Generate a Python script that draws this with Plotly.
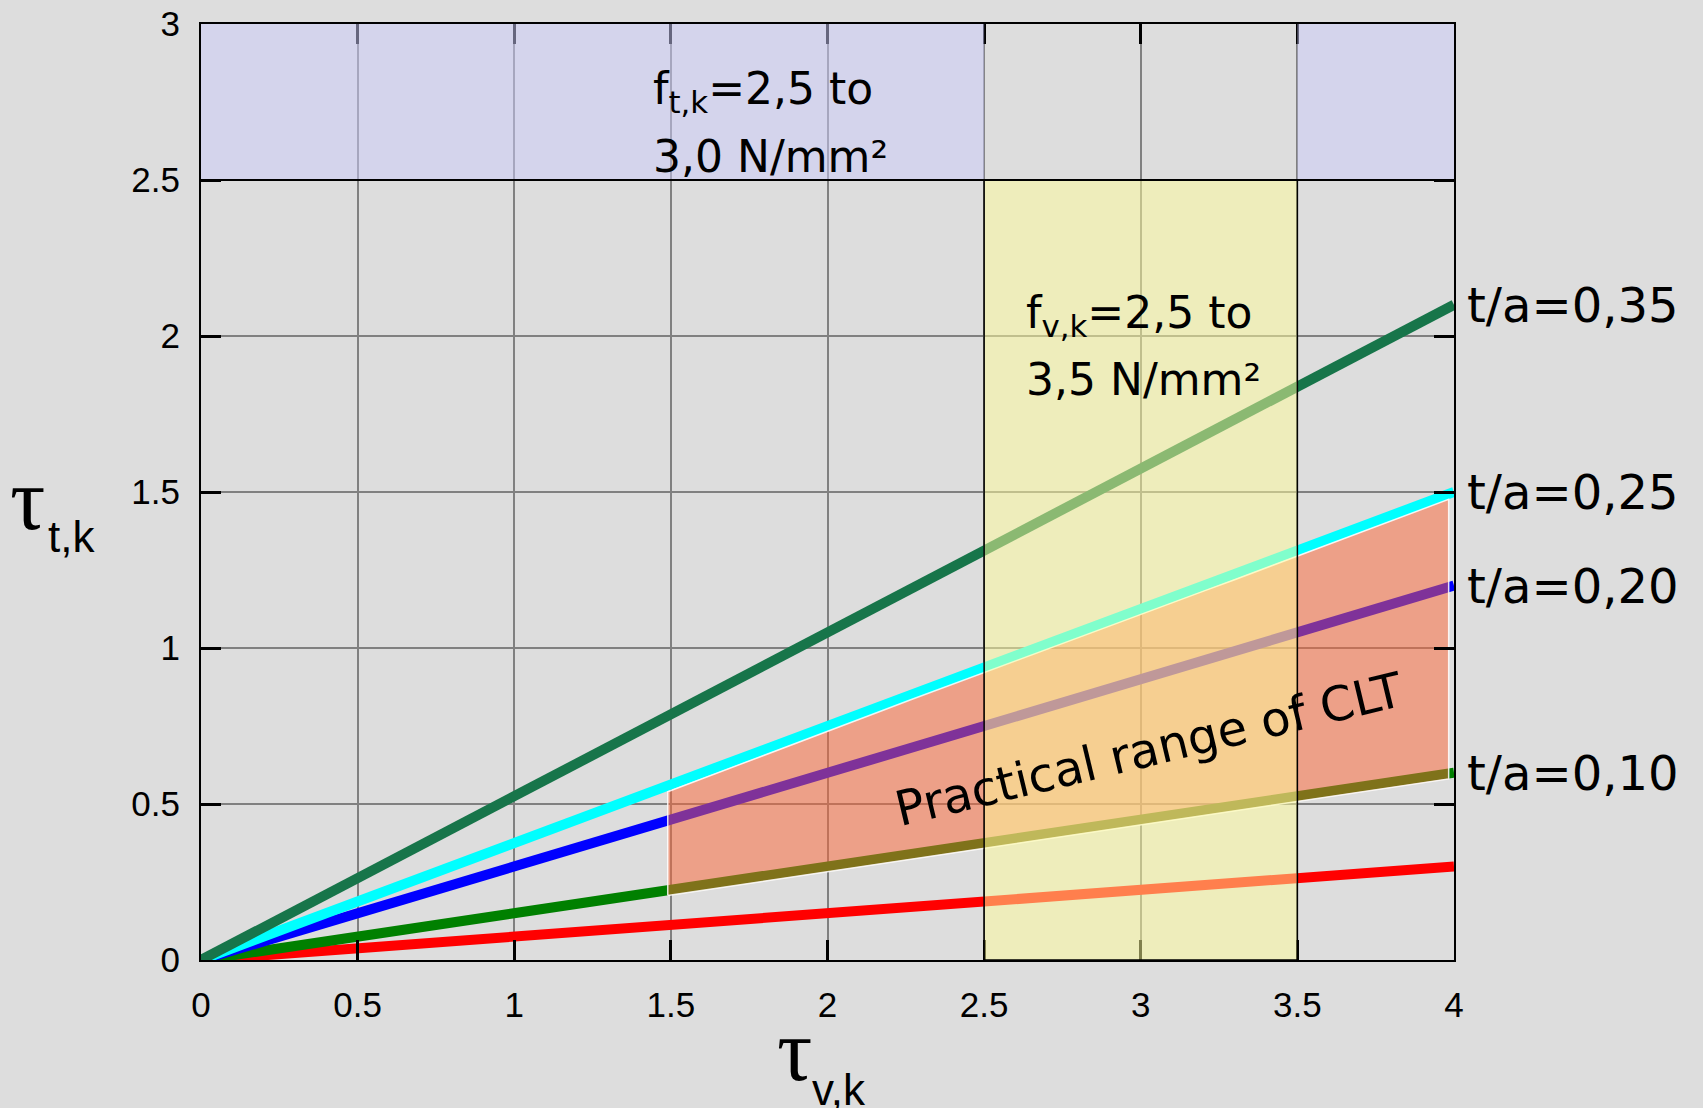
import numpy as np
import plotly.graph_objects as go

# ---------------- data ----------------
x_pts = [0, 1.5, 2.5, 3.5, 4.0]
ta_035 = [0, 0.79, 1.31, 1.84, 2.10]
ta_025 = [0, 0.56, 0.94, 1.31, 1.50]
ta_020 = [0, 0.45, 0.75, 1.05, 1.20]
ta_010 = [0, 0.225, 0.375, 0.525, 0.60]
ta_005 = [0, 0.11, 0.185, 0.26, 0.30]

series_labels = ["t/a=0,35", "t/a=0,25", "t/a=0,20", "t/a=0,10"]
x_ticks = [0, 0.5, 1, 1.5, 2, 2.5, 3, 3.5, 4]
x_ticktext = ["0", "0.5", "1", "1.5", "2", "2.5", "3", "3.5", "4"]
y_ticks = [0, 0.5, 1, 1.5, 2, 2.5, 3]
y_ticktext = ["0", "0.5", "1", "1.5", "2", "2.5", "3"]

clt_x = [1.49, 3.983]          # practical range of CLT (x extent)
fv_band = [2.5, 3.5, 0, 2.5]   # f_v,k band: x0, x1, y0, y1
ft_band = [2.5, 3.0]           # f_t,k band: y0, y1

ft_text = ["f<sub>t,k</sub>=2,5 to", "3,0 N/mm²"]
fv_text = ["f<sub>v,k</sub>=2,5 to", "3,5 N/mm²"]

# ---------------- figure ----------------
fig = go.Figure()

line_specs = [
    (ta_005, "#FF0000"),
    (ta_010, "#008000"),
    (ta_020, "#0000FF"),
    (ta_025, "#00FFFF"),
    (ta_035, "#17754A"),
]
for ys, col in line_specs:
    fig.add_trace(go.Scatter(x=x_pts, y=ys, mode="lines",
                             line=dict(color=col, width=10),
                             hoverinfo="skip", showlegend=False))

# practical range polygon, between t/a=0,10 and t/a=0,25
off = 0.017
px = np.linspace(clt_x[0], clt_x[1], 30)
top = np.interp(px, x_pts, ta_025) - off
bot = np.interp(px, x_pts, ta_010) - off
poly_x = np.concatenate([px, px[::-1], px[:1]])
poly_y = np.concatenate([bot, top[::-1], bot[:1]])
fig.add_trace(go.Scatter(x=poly_x, y=poly_y, mode="lines", fill="toself",
                         fillcolor="rgba(253,99,51,0.5)",
                         line=dict(color="rgba(255,255,255,0.85)", width=1.5),
                         hoverinfo="skip", showlegend=False))

# bands
fig.add_shape(type="rect", xref="x", yref="y", x0=0, x1=fv_band[0],
              y0=ft_band[0], y1=ft_band[1], layer="above",
              fillcolor="rgba(203,203,251,0.5)", line=dict(width=0))
fig.add_shape(type="rect", xref="x", yref="y", x0=fv_band[1], x1=4,
              y0=ft_band[0], y1=ft_band[1], layer="above",
              fillcolor="rgba(203,203,251,0.5)", line=dict(width=0))
fig.add_shape(type="rect", xref="x", yref="y", x0=fv_band[0], x1=fv_band[1],
              y0=fv_band[2], y1=fv_band[3], layer="above",
              fillcolor="rgba(255,253,153,0.5)", line=dict(color="black", width=1.5))
fig.add_shape(type="line", xref="x", yref="y", x0=0, x1=4,
              y0=ft_band[0], y1=ft_band[0], layer="above",
              line=dict(color="black", width=2))

# series labels at the right
lab_font = dict(family="DejaVu Sans", size=48, color="black")
for lab, ys in zip(series_labels, [ta_035, ta_025, ta_020, ta_010]):
    fig.add_annotation(x=4, y=ys[-1], xref="x", yref="y", text=lab,
                       showarrow=False, xanchor="left", yanchor="middle",
                       xshift=11, font=lab_font)

band_font = dict(family="DejaVu Sans", size=44, color="black")
for txt, yy in zip(ft_text, [2.785, 2.574]):
    fig.add_annotation(x=1.437, y=yy, xref="x", yref="y", text=txt,
                       showarrow=False, xanchor="left", yanchor="middle",
                       font=band_font)
for txt, yy in zip(fv_text, [2.065, 1.859]):
    fig.add_annotation(x=2.627, y=yy, xref="x", yref="y", text=txt,
                       showarrow=False, xanchor="left", yanchor="middle",
                       font=band_font)
fig.add_annotation(x=3.026, y=0.675, xref="x", yref="y",
                   text="Practical range of CLT", textangle=-13.5,
                   showarrow=False, font=lab_font)

# axis titles (tau + subscript)
tau_font = dict(family="Liberation Serif", size=88, color="black")
sub_font = dict(family="Liberation Sans", size=44, color="black")
fig.add_annotation(x=-0.154, y=0.492, xref="paper", yref="paper", text="τ",
                   showarrow=False, xanchor="left", yanchor="middle", font=tau_font)
fig.add_annotation(x=-0.124, y=0.452, xref="paper", yref="paper", text="t,k",
                   showarrow=False, xanchor="left", yanchor="middle", font=sub_font)
fig.add_annotation(x=0.458, y=-0.097, xref="paper", yref="paper", text="τ",
                   showarrow=False, xanchor="left", yanchor="middle", font=tau_font)
fig.add_annotation(x=0.486, y=-0.138, xref="paper", yref="paper", text="v,k",
                   showarrow=False, xanchor="left", yanchor="middle", font=sub_font)

tick_font = dict(family="Liberation Sans", size=35, color="black")
fig.update_xaxes(range=[0, 4], tickvals=x_ticks, ticktext=x_ticktext,
                 ticks="inside", ticklen=20, tickwidth=3, tickcolor="black",
                 showline=True, linecolor="black", linewidth=2, mirror="ticks",
                 showgrid=True, gridcolor="#808080", gridwidth=2, zeroline=False,
                 tickfont=tick_font, ticklabelstandoff=13, automargin=False)
fig.update_yaxes(range=[0, 3], tickvals=y_ticks, ticktext=y_ticktext,
                 ticks="inside", ticklen=20, tickwidth=3, tickcolor="black",
                 showline=True, linecolor="black", linewidth=2, mirror="ticks",
                 showgrid=True, gridcolor="#808080", gridwidth=2, zeroline=False,
                 tickfont=tick_font, ticklabelstandoff=12, automargin=False)

fig.update_layout(width=1703, height=1108,
                  margin=dict(l=201, r=249, t=24, b=148, autoexpand=False),
                  paper_bgcolor="#DDDDDD", plot_bgcolor="#DDDDDD",
                  showlegend=False)

fig.write_html("out.html", config={"displayModeBar": False},
               post_script="document.body.style.margin='0';document.body.style.padding='0';"
                           "document.body.style.background='#DDDDDD';")
